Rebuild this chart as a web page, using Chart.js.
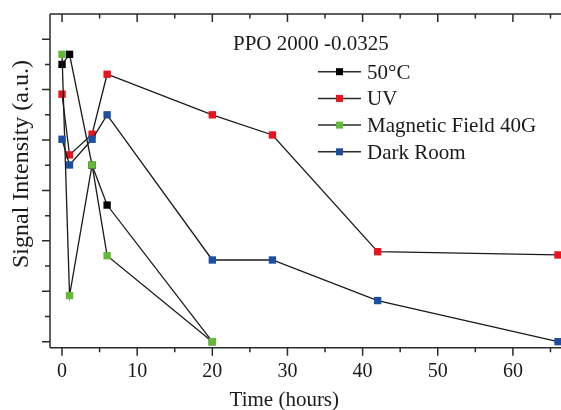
<!DOCTYPE html>
<html>
<head>
<meta charset="utf-8">
<script src="https://cdn.jsdelivr.net/npm/chart.js@4.4.0/dist/chart.umd.min.js"></script>
<style>
html, body { margin: 0; padding: 0; background: #fff; }
#wrap { width: 561px; height: 410px; }
</style>
</head>
<body>
<div id="wrap"><canvas id="plot"></canvas></div>
<script>
// values (signal in arbitrary units, one unit = one y tick)
var seriesNames = ['50°C', 'UV', 'Magnetic Field 40G', 'Dark Room'];
var seriesColors = ['#000000', '#e8141c', '#62bb35', '#1c4fa0'];
var hot50Time = [0, 1, 4, 6, 20];
var hot50Signal = [11.0, 11.4, 7.0, 5.42, 0];
var uvTime = [0, 1, 4, 6, 20, 28, 42, 66];
var uvSignal = [9.82, 7.41, 8.23, 10.61, 9.0, 8.2, 3.57, 3.44];
var magTime = [0, 1, 4, 6, 20];
var magSignal = [11.4, 1.83, 7.01, 3.41, 0];
var darkTime = [0, 1, 4, 6, 20, 28, 42, 66];
var darkSignal = [8.03, 7.01, 8.03, 9.0, 3.24, 3.24, 1.63, 0];
var xTickLabels = [0, 10, 20, 30, 40, 50, 60];

var serif = "'Liberation Serif', 'Times New Roman', serif";
var ink = '#1a1a1a';

function pairs(xs, ys) {
    return xs.map(function (x, i) { return { x: x, y: ys[i] }; });
}

function makeSet(i, xs, ys) {
    return {
        label: seriesNames[i],
        data: pairs(xs, ys),
        showLine: true,
        borderColor: '#1a1a1a',
        borderWidth: 1.3,
        pointStyle: 'rect',
        pointRadius: 5.2,
        pointHoverRadius: 5.2,
        pointBorderWidth: 0,
        pointBackgroundColor: seriesColors[i],
        order: 4 - i,
        clip: false
    };
}

// axes box, ticks, inset title, legend and axis titles
var decor = {
    id: 'decor',
    afterDraw: function (chart) {
        var ctx = chart.ctx, a = chart.chartArea;
        var xs = chart.scales.x, ys = chart.scales.y;
        ctx.save();
        ctx.strokeStyle = '#2b2b2b';
        ctx.lineWidth = 1.5;
        ctx.beginPath();
        ctx.moveTo(a.left, a.top); ctx.lineTo(a.right, a.top);
        ctx.moveTo(a.left, a.top); ctx.lineTo(a.left, a.bottom);
        ctx.moveTo(a.left, a.bottom); ctx.lineTo(a.right, a.bottom);
        for (var v = 0; v <= 65; v += 5) {
            var px = xs.getPixelForValue(v);
            var len = v % 10 === 0 ? 8 : 4.5;
            ctx.moveTo(px, a.bottom); ctx.lineTo(px, a.bottom + len);
            ctx.moveTo(px, a.top); ctx.lineTo(px, a.top + len);
        }
        for (var k = 0; k <= 12; k++) {
            var py = ys.getPixelForValue(k);
            var l = k % 2 === 0 ? 8 : 5;
            ctx.moveTo(a.left, py); ctx.lineTo(a.left - l, py);
        }
        ctx.stroke();

        ctx.fillStyle = ink;
        ctx.textBaseline = 'alphabetic';
        ctx.font = '21px ' + serif;
        ctx.textAlign = 'left';
        ctx.fillText('PPO 2000 -0.0325', 233, 50);

        for (var i = 0; i < seriesNames.length; i++) {
            var cy = 71.7 + i * 26.7;
            ctx.strokeStyle = '#2b2b2b';
            ctx.lineWidth = 1.5;
            ctx.beginPath();
            ctx.moveTo(318, cy); ctx.lineTo(361, cy);
            ctx.stroke();
            ctx.fillStyle = seriesColors[i];
            ctx.fillRect(336, cy - 3.5, 7, 7);
            ctx.fillStyle = ink;
            ctx.fillText(seriesNames[i], 367, cy + 7);
        }

        ctx.textAlign = 'center';
        ctx.fillText('Time (hours)', 284.3, 406);

        ctx.translate(28, 164);
        ctx.rotate(-Math.PI / 2);
        ctx.font = '24px ' + serif;
        ctx.fillText('Signal Intensity (a.u.)', 0, 0);
        ctx.restore();
    }
};

new Chart(document.getElementById('plot'), {
    type: 'scatter',
    data: {
        datasets: [
            makeSet(0, hot50Time, hot50Signal),
            makeSet(1, uvTime, uvSignal),
            makeSet(2, magTime, magSignal),
            makeSet(3, darkTime, darkSignal)
        ]
    },
    options: {
        responsive: true,
        maintainAspectRatio: false,
        animation: false,
        layout: { autoPadding: false, padding: { top: 14, right: 0, left: 0, bottom: 0 } },
        plugins: {
            legend: { display: false },
            tooltip: { enabled: false }
        },
        scales: {
            x: {
                type: 'linear',
                min: -1.6,
                max: 66.4,
                grid: { display: false, drawTicks: false },
                border: { display: false },
                afterBuildTicks: function (s) {
                    s.ticks = xTickLabels.map(function (v) { return { value: v }; });
                },
                afterFit: function (s) { s.height = 62.3; },
                ticks: {
                    padding: 12.5,
                    maxRotation: 0,
                    autoSkip: false,
                    color: ink,
                    font: { family: serif, size: 20 }
                }
            },
            y: {
                type: 'linear',
                min: -0.24,
                max: 13.0,
                grid: { display: false, drawTicks: false },
                border: { display: false },
                ticks: { display: false },
                afterFit: function (s) { s.width = 50; }
            }
        }
    },
    plugins: [decor]
});
</script>
</body>
</html>
